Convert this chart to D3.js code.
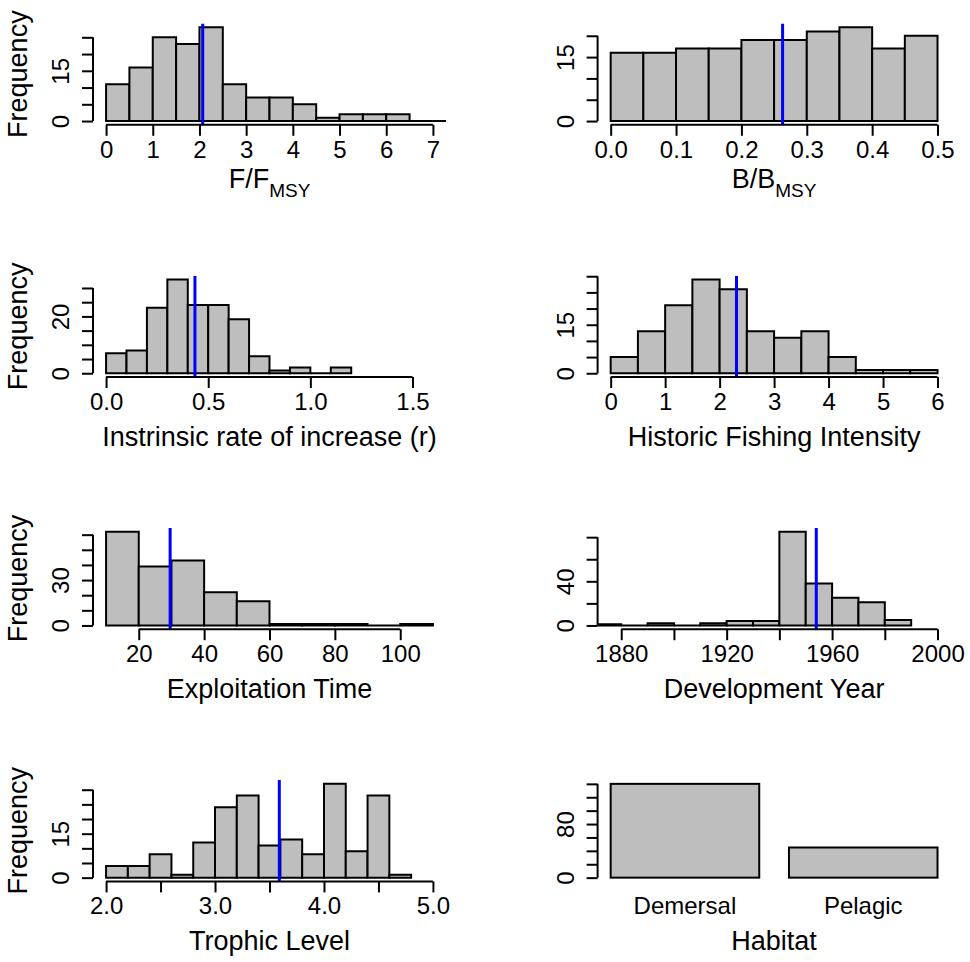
<!DOCTYPE html>
<html>
<head>
<meta charset="utf-8">
<script src="https://cdn.jsdelivr.net/npm/d3@7"></script>
<style>
  body { margin: 0; background: #fff; }
  svg { display: block; font-family: "Liberation Sans", Arial, Helvetica, sans-serif; }
  .bar { fill: #bebebe; stroke: #000; stroke-width: 2; }
  .axis line, .axis-line { stroke: #000; stroke-width: 2; }
  .axis text, .name { font-family: "Liberation Sans", Arial, sans-serif; font-size: 24px; fill: #000; }
  .title { font-size: 27px; fill: #000; }
  .mean-line { stroke: #0000ff; stroke-width: 3; }
</style>
</head>
<body>
<svg id="chart" width="970" height="962"></svg>
<script>
// F/Fmsy
const fmsyBreaks = [0, 0.5, 1, 1.5, 2, 2.5, 3, 3.5, 4, 4.5, 5, 5.5, 6, 6.5, 7, 7.5];
const fmsyCounts = [11, 16, 25, 23, 28, 11, 7, 7, 5, 1, 2, 2, 2, 0, 0];
const fmsyTicks = [0, 1, 2, 3, 4, 5, 6, 7];
const fmsyFreqTicks = [0, 5, 10, 15, 20, 25];
const fmsyMean = 2.07;

// B/Bmsy
const bmsyBreaks = [0, 0.05, 0.1, 0.15, 0.2, 0.25, 0.3, 0.35, 0.4, 0.45, 0.5];
const bmsyCounts = [16, 16, 17, 17, 19, 19, 21, 22, 17, 20];
const bmsyTicks = [0, 0.1, 0.2, 0.3, 0.4, 0.5];
const bmsyFreqTicks = [0, 5, 10, 15, 20];
const bmsyMean = 0.263;

// intrinsic rate of increase
const rBreaks = [0, 0.1, 0.2, 0.3, 0.4, 0.5, 0.6, 0.7, 0.8, 0.9, 1.0, 1.1, 1.2];
const rCounts = [7, 8, 23, 33, 24, 24, 19, 6, 1, 2, 0, 2];
const rTicks = [0, 0.5, 1, 1.5];
const rFreqTicks = [0, 5, 10, 15, 20, 25, 30];
const rMean = 0.435;

// historic fishing intensity
const hfiBreaks = [0, 0.5, 1, 1.5, 2, 2.5, 3, 3.5, 4, 4.5, 5, 5.5, 6];
const hfiCounts = [5, 13, 21, 29, 26, 13, 11, 13, 5, 1, 1, 1];
const hfiTicks = [0, 1, 2, 3, 4, 5, 6];
const hfiFreqTicks = [0, 5, 10, 15, 20, 25, 30];
const hfiMean = 2.31;

// exploitation time
const expBreaks = [10, 20, 30, 40, 50, 60, 70, 80, 90, 100, 110];
const expCounts = [62, 39, 43, 22, 16, 1, 1, 1, 0, 1];
const expTicks = [20, 40, 60, 80, 100];
const expFreqTicks = [0, 10, 20, 30, 40, 50, 60];
const expMean = 29.6;

// development year
const devBreaks = [1870, 1880, 1890, 1900, 1910, 1920, 1930, 1940, 1950, 1960, 1970, 1980, 1990];
const devCounts = [1, 0, 2, 0, 2, 4, 4, 85, 38, 25, 21, 5];
const devTicks = [1880, 1900, 1920, 1940, 1960, 1980, 2000];
const devFreqTicks = [0, 20, 40, 60, 80];
const devMean = 1954;

// trophic level
const tlBreaks = [2.0, 2.2, 2.4, 2.6, 2.8, 3.0, 3.2, 3.4, 3.6, 3.8, 4.0, 4.2, 4.4, 4.6, 4.8];
const tlCounts = [4, 4, 8, 1, 12, 24, 28, 11, 13, 8, 32, 9, 28, 1];
const tlTicks = [2.0, 2.5, 3.0, 3.5, 4.0, 4.5, 5.0];
const tlFreqTicks = [0, 5, 10, 15, 20, 25, 30];
const tlMean = 3.59;

// habitat
const habitats = ["Demersal", "Pelagic"];
const habitatCounts = [140, 45];
const habitatTicks = [0, 20, 40, 60, 80, 100, 120, 140];

const svg = d3.select('#chart');

// plot regions (like par(mfrow = c(4, 2)))
const colLeft = [93, 597.6];
const rowTop = [23.5, 275.7, 527.9, 780.1];
const plotW = 353;
const plotH = 101.3;
const GAP = 23.3; // min space between tick labels, otherwise skipped (as R does)

const fInt = d3.format('d');
const f1 = d3.format('.1f');

const panels = [
    { col: 0, row: 0, breaks: fmsyBreaks, counts: fmsyCounts, ticks: fmsyTicks, yticks: fmsyFreqTicks, mean: fmsyMean, xlim: [0, 7], fmt: fInt, title: ['F/F', 'MSY'], ylab: true },
    { col: 1, row: 0, breaks: bmsyBreaks, counts: bmsyCounts, ticks: bmsyTicks, yticks: bmsyFreqTicks, mean: bmsyMean, xlim: [0, 0.5], fmt: f1, title: ['B/B', 'MSY'], ylab: false },
    { col: 0, row: 1, breaks: rBreaks, counts: rCounts, ticks: rTicks, yticks: rFreqTicks, mean: rMean, xlim: [0, 1.6], fmt: f1, title: ['Instrinsic rate of increase (r)'], ylab: true },
    { col: 1, row: 1, breaks: hfiBreaks, counts: hfiCounts, ticks: hfiTicks, yticks: hfiFreqTicks, mean: hfiMean, xlim: [0, 6], fmt: fInt, title: ['Historic Fishing Intensity'], ylab: false },
    { col: 0, row: 2, breaks: expBreaks, counts: expCounts, ticks: expTicks, yticks: expFreqTicks, mean: expMean, xlim: [10, 110], fmt: fInt, title: ['Exploitation Time'], ylab: true },
    { col: 1, row: 2, breaks: devBreaks, counts: devCounts, ticks: devTicks, yticks: devFreqTicks, mean: devMean, xlim: [1876, 2000], fmt: fInt, title: ['Development Year'], ylab: false },
    { col: 0, row: 3, breaks: tlBreaks, counts: tlCounts, ticks: tlTicks, yticks: tlFreqTicks, mean: tlMean, xlim: [2, 5], fmt: f1, title: ['Trophic Level'], ylab: true }
];

//Quita etiquetas que se solapan
const thinLabels = (axisG, horizontal) => {
    let last = null;
    axisG.selectAll('.tick text').each(function () {
        const r = this.getBoundingClientRect();
        const lo = horizontal ? r.left : -r.bottom;
        const hi = horizontal ? r.right : -r.top;
        if (last !== null && lo - last < GAP) d3.select(this).remove();
        else last = hi;
    });
}

const drawYAxis = (g, y, left, ticks) => {
    const axisY = g.append('g')
        .attr('class', 'axis')
        .attr('transform', `translate(${left},0)`)
        .call(d3.axisLeft(y).tickValues(ticks).tickFormat(fInt).tickSize(11));
    axisY.select('.domain').remove();
    axisY.append('line').attr('class', 'axis-line')
        .attr('x1', 0).attr('x2', 0)
        .attr('y1', y(ticks[0])).attr('y2', y(ticks[ticks.length - 1]));
    axisY.selectAll('.tick text')
        .attr('transform', 'rotate(-90)')
        .attr('x', 0).attr('y', -24).attr('dy', null)
        .attr('text-anchor', 'middle');
    thinLabels(axisY, false);
}

const drawTitles = (g, p, left, top, bottom) => {
    const t = g.append('text').attr('class', 'title')
        .attr('x', left + plotW / 2)
        .attr('y', bottom + (p.title.length > 1 ? 63 : 68.5))
        .attr('text-anchor', 'middle')
        .text(p.title[0]);
    if (p.title.length > 1) {
        t.append('tspan').attr('dy', 9).style('font-size', '19px').text(p.title[1]);
    }
    if (p.ylab) {
        g.append('text').attr('class', 'title')
            .attr('transform', `translate(${left - 66.5},${(top + bottom) / 2}) rotate(-90)`)
            .attr('text-anchor', 'middle')
            .text('Frequency');
    }
}

const drawHist = (p) => {
    const left = colLeft[p.col], top = rowTop[p.row];
    const bottom = top + plotH;
    const span = p.xlim[1] - p.xlim[0];
    const ymax = d3.max(p.counts);

    const x = d3.scaleLinear()
        .domain([p.xlim[0] - 0.04 * span, p.xlim[1] + 0.04 * span])
        .range([left, left + plotW]);
    const y = d3.scaleLinear()
        .domain([-0.04 * ymax, 1.04 * ymax])
        .range([bottom, top]);

    const g = svg.append('g');
    const clipId = `clip-${p.col}-${p.row}`;
    svg.append('clipPath').attr('id', clipId)
        .append('rect')
        .attr('x', left).attr('y', top)
        .attr('width', plotW).attr('height', plotH);

    const bins = p.counts.map((n, i) => ({ x0: p.breaks[i], x1: p.breaks[i + 1], n: n }));
    const area = g.append('g').attr('clip-path', `url(#${clipId})`);

    area.selectAll('.bar')
        .data(bins)
        .join('path')
        .attr('class', 'bar')
        .attr('d', d => `M${x(d.x0)},${y(0)}V${y(d.n)}H${x(d.x1)}V${y(0)}Z`);

    area.append('line').attr('class', 'mean-line')
        .attr('x1', x(p.mean)).attr('x2', x(p.mean))
        .attr('y1', top).attr('y2', bottom);

    const axisX = g.append('g')
        .attr('class', 'axis')
        .attr('transform', `translate(0,${bottom})`)
        .call(d3.axisBottom(x).tickValues(p.ticks).tickFormat(p.fmt).tickSize(11).tickPadding(5));
    axisX.select('.domain').remove();
    axisX.append('line').attr('class', 'axis-line')
        .attr('x1', x(p.ticks[0])).attr('x2', x(p.ticks[p.ticks.length - 1]))
        .attr('y1', 0).attr('y2', 0);
    thinLabels(axisX, true);

    drawYAxis(g, y, left, p.yticks);
    drawTitles(g, p, left, top, bottom);
}

const drawHabitat = (col, row) => {
    const left = colLeft[col], top = rowTop[row];
    const bottom = top + plotH;
    // barplot: width 1, space 0.2
    const xmin = 0.2, xmax = habitats.length * 1.2;
    const pad = 0.04 * (xmax - xmin);
    const x = d3.scaleLinear().domain([xmin - pad, xmax + pad]).range([left, left + plotW]);
    const ymax = d3.max(habitatCounts);
    const y = d3.scaleLinear().domain([-0.04 * ymax, 1.04 * ymax]).range([bottom, top]);

    const data = habitats.map((h, i) => ({ name: h, n: habitatCounts[i], x0: 0.2 + i * 1.2 }));
    const g = svg.append('g');

    g.selectAll('.bar')
        .data(data)
        .join('rect')
        .attr('class', 'bar')
        .attr('x', d => x(d.x0))
        .attr('width', d => x(d.x0 + 1) - x(d.x0))
        .attr('y', d => y(d.n))
        .attr('height', d => y(0) - y(d.n));

    g.selectAll('.name')
        .data(data)
        .join('text')
        .attr('class', 'name')
        .attr('x', d => x(d.x0 + 0.5))
        .attr('y', bottom + 33)
        .attr('text-anchor', 'middle')
        .text(d => d.name);

    drawYAxis(g, y, left, habitatTicks);
    drawTitles(g, { title: ['Habitat'], ylab: false }, left, top, bottom);
}

panels.forEach(drawHist);
drawHabitat(1, 3);
</script>
</body>
</html>
